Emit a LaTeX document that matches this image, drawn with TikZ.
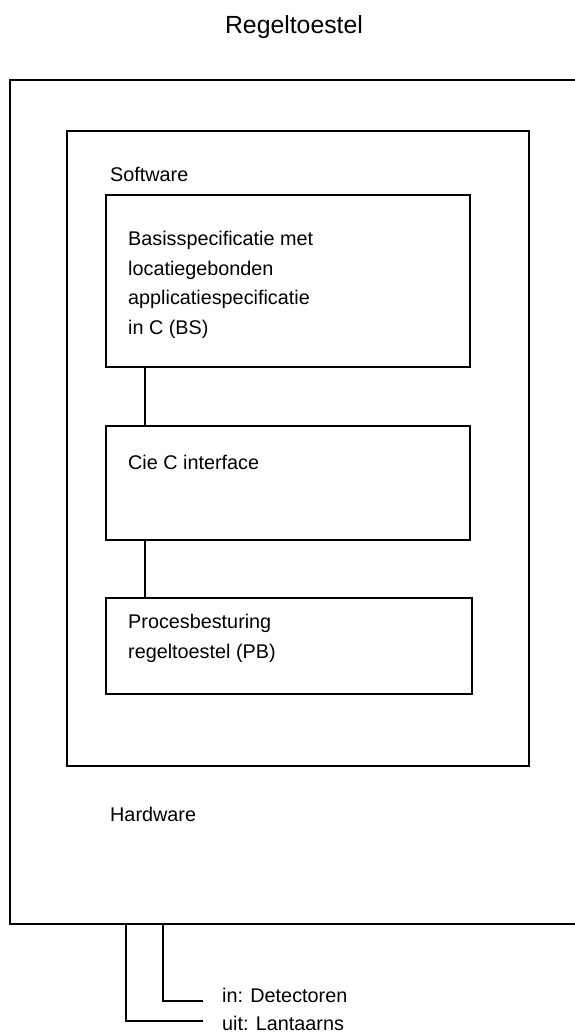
\documentclass[tikz,border=0pt]{standalone}
\usepackage{fontspec}
\setmainfont{Liberation Sans}
\usepackage{tikz}
\usetikzlibrary{positioning}

\begin{document}
\begin{tikzpicture}[
  x=1pt, y=-1pt,
  frame/.style={
    rectangle, draw=black, line width=2pt, outer sep=0pt, inner sep=0pt,
    anchor=north west
  },
  txt/.style={
    inner sep=0pt, align=left,
    font=\fontsize{19.8}{29.5}\selectfont
  },
  ttl/.style={inner sep=0pt, font=\fontsize{24.8}{30}\selectfont},
  wire/.style={line width=2pt, black}
]
\useasboundingbox (0,0) rectangle (574,1035);

% ---- Frames ----
\node[frame, minimum width=570pt, minimum height=844pt] (hw) at (10,80)  {};
\node[frame, minimum width=462pt, minimum height=635pt] (sw) at (67,131) {};
\node[frame, minimum width=364pt, minimum height=172pt] (bs) at (106,195) {};
\node[frame, minimum width=364pt, minimum height=114pt] (ci) at (106,426) {};
\node[frame, minimum width=366pt, minimum height=96pt]  (pb) at (106,598) {};

% ---- Texts ----
\node[ttl] (title) at (294,27) {Regeltoestel};
\node[txt, anchor=west] (swlbl) at (110,174) {Software};
\node[txt, anchor=north west] (bstxt) at (128,231)
  {Basisspecificatie met\\locatiegebonden\\applicatiespecificatie\\in C (BS)};
\node[txt, anchor=west] (citxt) at (128,462) {Cie C interface};
\node[txt, anchor=north west] (pbtxt) at (128,614)
  {Procesbesturing\\regeltoestel (PB)};
\node[txt, anchor=west] (hwlbl) at (110,814) {Hardware};
\node[txt, anchor=base west] (in)  at (222,1002) {in: Detectoren};
\node[txt, anchor=base west] (uit) at (222,1030) {uit: Lantaarns};

% ---- Connectors ----
\draw[wire] ([xshift=39pt]bs.south west) -- ([xshift=39pt]ci.north west);
\draw[wire] ([xshift=39pt]ci.south west) -- ([xshift=39pt]pb.north west);
\draw[wire] ([xshift=153pt]hw.south west) |- ([xshift=-19pt,yshift=1pt]in.base west);
\draw[wire] ([xshift=116pt]hw.south west) |- ([xshift=-19pt,yshift=9pt]uit.base west);

\end{tikzpicture}
\end{document}
